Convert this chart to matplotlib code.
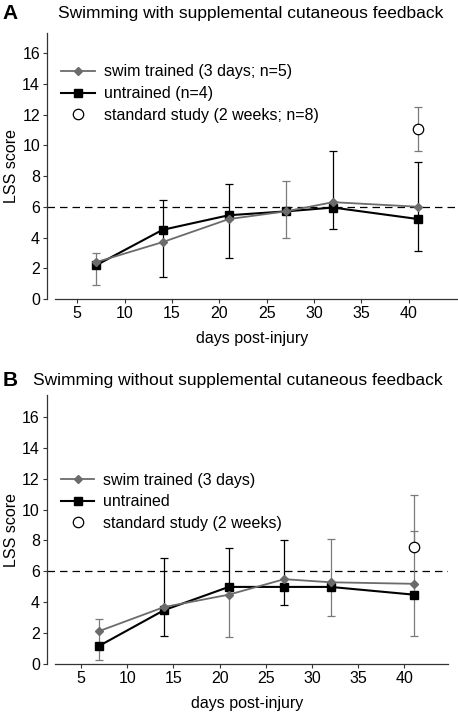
import matplotlib
matplotlib.use("Agg")
import matplotlib.pyplot as plt
import numpy as np

plt.rcParams['font.family'] = ['Liberation Sans', 'DejaVu Sans']

# days post-injury
days = [7, 14, 21, 27, 32, 41]
std_day = [41]

# panel A: with supplemental cutaneous feedback
a_swim = [2.4, 3.7, 5.2, 5.7, 6.3, 6.0]
a_untr = [2.2, 4.5, 5.45, 5.7, 5.95, 5.2]
a_std = [11.05]
# error bar extents (low, high), NaN where no bar drawn for that series
a_swim_lo = [0.9, np.nan, np.nan, 4.0, np.nan, np.nan]
a_swim_hi = [3.0, np.nan, np.nan, 7.7, np.nan, np.nan]
a_untr_lo = [np.nan, 1.45, 2.65, np.nan, 4.55, 3.15]
a_untr_hi = [np.nan, 6.45, 7.45, np.nan, 9.6, 8.9]
a_std_lo = [9.65]
a_std_hi = [12.5]

# panel B: without supplemental cutaneous feedback
b_swim = [2.15, 3.7, 4.5, 5.5, 5.3, 5.2]
b_untr = [1.2, 3.5, 5.0, 5.0, 5.0, 4.5]
b_std = [7.55]
b_swim_lo = [0.3, np.nan, 1.75, np.nan, 3.15, 1.85]
b_swim_hi = [2.9, np.nan, np.nan, np.nan, 8.1, 10.95]
b_untr_lo = [np.nan, 1.8, np.nan, 3.85, np.nan, np.nan]
b_untr_hi = [np.nan, 6.85, 7.5, 8.0, np.nan, np.nan]
b_std_lo = [7.55]
b_std_hi = [8.6]

GRAY = '#6b6b6b'
EGRAY = '#7a7a7a'
FS = 11.5


def errbars(ax, x, y, lo, hi, color):
    x = np.array(x, float)
    y = np.array(y, float)
    lo = np.array(lo, float)
    hi = np.array(hi, float)
    dlo = np.where(np.isnan(lo), 0, y - np.nan_to_num(lo, nan=0))
    dhi = np.where(np.isnan(hi), 0, np.nan_to_num(hi, nan=0) - y)
    keep = (dlo > 0) | (dhi > 0)
    ax.errorbar(x[keep], y[keep], yerr=[dlo[keep], dhi[keep]], fmt='none',
                ecolor=color, elinewidth=0.9, capsize=0, zorder=2)
    # caps only on the sides that have a bar
    for xi, l, h in zip(x, lo, hi):
        for v in (l, h):
            if not np.isnan(v):
                ax.plot([xi], [v], marker='_', ms=6, mew=0.9, color=color, zorder=2)


def panel(ax, swim, untr, std, slo, shi, ulo, uhi, stlo, sthi,
          labels, xlim, ytop, legy):
    errbars(ax, days, swim, slo, shi, EGRAY)
    errbars(ax, days, untr, ulo, uhi, 'black')
    errbars(ax, std_day, std, stlo, sthi, EGRAY)
    ax.axhline(6, color='black', lw=0.9, ls=(0, (6, 4)), zorder=1)
    ax.plot(days, swim, color=GRAY, lw=1.3, marker='D', ms=4.5,
            mfc=GRAY, mec=GRAY, label=labels[0], zorder=4)
    ax.plot(days, untr, color='black', lw=1.5, marker='s', ms=5.5,
            label=labels[1], zorder=3)
    ax.plot(std_day, std, ls='none', marker='o', ms=7.5, mfc='white',
            mec='black', mew=0.9, label=labels[2], zorder=5)

    ax.set_xlim(*xlim)
    ax.set_ylim(0, ytop)
    ax.set_xticks([5, 10, 15, 20, 25, 30, 35, 40])
    ax.set_yticks(range(0, 17, 2))
    for s in ('top', 'right'):
        ax.spines[s].set_visible(False)
    ax.spines['bottom'].set_bounds(xlim[0] + 0.85, xlim[1])
    ax.spines['left'].set_bounds(0, ytop)
    for s in ('bottom', 'left'):
        ax.spines[s].set_color('#333333')
        ax.spines[s].set_linewidth(0.9)
    ax.tick_params(direction='out', length=3, width=0.8, labelsize=FS,
                   color='#333333', pad=2)
    ax.set_xlabel('days post-injury', fontsize=FS, labelpad=7)
    ax.set_ylabel('LSS score', fontsize=FS, labelpad=2)
    ax.legend(loc='upper left', bbox_to_anchor=(0.035, legy), frameon=False,
              fontsize=FS, handlelength=2.1, handletextpad=0.55,
              labelspacing=0.42, borderpad=0, borderaxespad=0)


fig = plt.figure(figsize=(4.58, 7.14), dpi=100)
axA = fig.add_axes([0.1026, 0.5812, 0.8954, 0.3725])
axB = fig.add_axes([0.1020, 0.0696, 0.8760, 0.3772])

panel(axA, a_swim, a_untr, a_std, a_swim_lo, a_swim_hi, a_untr_lo, a_untr_hi,
      a_std_lo, a_std_hi,
      ['swim trained (3 days; n=5)', 'untrained (n=4)',
       'standard study (2 weeks; n=8)'],
      (1.8, 45.1), 17.3, 0.882)
panel(axB, b_swim, b_untr, b_std, b_swim_lo, b_swim_hi, b_untr_lo, b_untr_hi,
      b_std_lo, b_std_hi,
      ['swim trained (3 days)', 'untrained', 'standard study (2 weeks)'],
      (1.3, 44.7), 17.4, 0.712)

fig.text(0.006, 0.981, 'A', fontsize=15, fontweight='bold', va='center')
fig.text(0.126, 0.981, 'Swimming with supplemental cutaneous feedback',
         fontsize=12.5, va='center')
fig.text(0.006, 0.467, 'B', fontsize=15, fontweight='bold', va='center')
fig.text(0.072, 0.467, 'Swimming without supplemental cutaneous feedback',
         fontsize=12.5, va='center')

fig.savefig('out.png', dpi=100)
